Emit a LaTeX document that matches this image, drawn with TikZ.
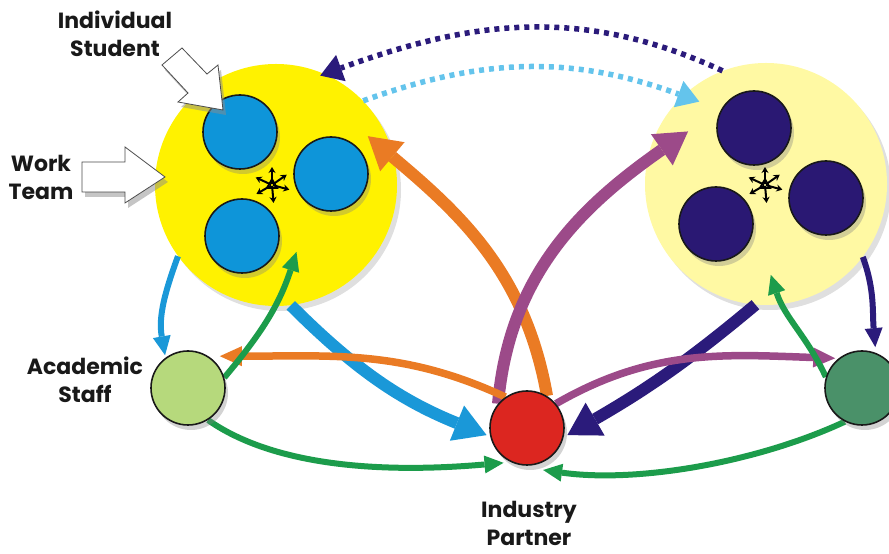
\documentclass[tikz,border=0pt]{standalone}
\usepackage{fontspec}
\setmainfont{Poppins}
\usetikzlibrary{arrows.meta,calc,shadows}

\definecolor{teamyellow}{HTML}{FFF200}
\definecolor{teampale}{HTML}{FFF9A3}
\definecolor{studentblue}{HTML}{0E95D9}
\definecolor{studentnavy}{HTML}{2A1873}
\definecolor{staffgreen}{HTML}{B6D97C}
\definecolor{partnerred}{HTML}{DC2620}
\definecolor{staffdark}{HTML}{4A9169}
\definecolor{orangeflow}{HTML}{EA7B24}
\definecolor{purpleflow}{HTML}{9C4A89}
\definecolor{navyflow}{HTML}{2B1B7B}
\definecolor{blueflow}{HTML}{1A98D8}
\definecolor{skyflow}{HTML}{64C4EC}
\definecolor{greenflow}{HTML}{1C9C4B}

\pgfdeclarelayer{bg}
\pgfdeclarelayer{links}
\pgfsetlayers{bg,links,main}

\tikzset{
	team/.style={circle, inner sep=0pt, minimum size=242pt, drop shadow={shadow xshift=4pt, shadow yshift=-5pt, opacity=0.25}},
	member/.style={circle, draw=black!90, line width=1.6pt, inner sep=0pt, minimum size=74pt, drop shadow={shadow xshift=3pt, shadow yshift=-5pt, opacity=0.35}},
	rolename/.style={font=\bfseries\fontsize{22}{28}\selectfont, align=center, text=black!90},
	bigflow/.style={line width=12pt, -{Triangle[length=32pt, width=38pt, line width=0pt]}},
	flow/.style={line width=7.5pt, -{Triangle[length=22pt, width=20pt, line width=0pt]}},
	thinflow/.style={line width=6pt, -{Triangle[length=19pt, width=18pt, line width=0pt]}},
	dotflow/.style={line width=5.5pt, dash pattern=on 5pt off 5pt, -{Triangle[length=22pt, width=28pt, line width=0pt]}},
	block/.style={draw=black!70, fill=white, line width=0.8pt, line join=miter},
}

% six little arrows between the members of a team
\def\linkstar(#1){%
	\foreach \a in {-15,35,90,155,210,275}
		\draw[line width=2pt, -{Stealth[length=6pt, width=7pt]}] ($(#1)+(\a:1pt)$) -- ($(#1)+(\a:18pt)$);
	\draw[line width=1.6pt] ($(#1)+(90:6pt)$) -- ($(#1)+(210:6pt)$) -- ($(#1)+(330:6pt)$) -- cycle;
}

\begin{document}
\begin{tikzpicture}[x=1pt, y=1pt]
	%%%%% START %%%%%
	\useasboundingbox (0,0) rectangle (889,554);
	
	\begin{pgfonlayer}{bg}
		\node[team, fill=teamyellow] (teamL) at (276,369) {};
		\node[team, fill=teampale] (teamR) at (766,370) {};
	\end{pgfonlayer}
	
	\node[member, fill=studentblue] (sL1) at (240,422) {};
	\node[member, fill=studentblue] (sL2) at (331,380) {};
	\node[member, fill=studentblue] (sL3) at (242,318) {};
	\node[member, fill=studentnavy] (sR1) at (754,426) {};
	\node[member, fill=studentnavy] (sR2) at (826,356) {};
	\node[member, fill=studentnavy] (sR3) at (716,330) {};
	
	\node[member, fill=staffgreen] (staff) at (188,166) {};
	\node[member, fill=partnerred] (partner) at (527,126) {};
	\node[member, fill=staffdark] (staffR) at (862,166) {};
	
	\linkstar(272,369)
	\linkstar(765,369)
	
	\node[rolename] (lblStudent) at (115,520) {Individual\\Student};
	\node[rolename] (lblWork) at (41,377) {Work\\Team};
	\node[rolename] (lblStaff) at (85,174) {Academic\\Staff};
	\node[rolename] (lblPartner) at (529,31) {Industry\\Partner};
	
	% pointers
	\fill[black!45, opacity=0.5, xshift=3pt, yshift=-5pt] (162,489) -- (182,506) -- (207,480) -- (218,489) -- (223,444) -- (178,452) -- (188,461) -- cycle;
	\draw[block] (162,489) -- (182,506) -- (207,480) -- (218,489) -- (223,444) -- (178,452) -- (188,461) -- cycle;
	\fill[black!45, opacity=0.5, xshift=3pt, yshift=-5pt] (82,392) -- (125,392) -- (125,407) -- (165,377) -- (125,351) -- (125,362) -- (82,362) -- cycle;
	\draw[block] (82,392) -- (125,392) -- (125,407) -- (165,377) -- (125,351) -- (125,362) -- (82,362) -- cycle;
	
	\begin{pgfonlayer}{links}
		% between the teams
		\draw[dotflow, color=navyflow] (teamR.111) to[out=155, in=20] ($(teamL)+(68:118)$);
		\draw[dotflow, color=skyflow] (teamL.44) to[out=20, in=160] ($(teamR)+(129:106)$);
		
		% to and from the partner
		\draw[bigflow, color=orangeflow] (partner.58) to[out=100, in=-40] ($(teamL)+(28:104)$);
		\draw[bigflow, color=purpleflow] (partner.140) to[out=85, in=-145] ($(teamR)+(146:94)$);
		\draw[bigflow, color=navyflow] (teamR.265) to[out=220, in=30] ($(partner)+(-10:41)$);
		\draw[bigflow, color=blueflow] (teamL.-83) to[out=-45, in=158] ($(partner)+(190:41)$);
		\draw[flow, color=orangeflow] (partner.125) to[out=155, in=0] ($(staff)+(45:45)$);
		\draw[flow, color=purpleflow] (partner.40) to[out=30, in=178] ($(staffR)+(132:40)$);
		
		% staff
		\draw[thinflow, color=greenflow] (staff.-58) to[out=-35, in=185, looseness=0.8] ($(partner)+(236:42)$);
		\draw[thinflow, color=greenflow] (staffR.243) to[out=205, in=-8, looseness=0.8] ($(partner)+(-69:45)$);
		\draw[thinflow, color=greenflow] (staff.16) to[out=50, in=-108] ($(teamL)+(-73:70)$);
		\draw[thinflow, color=greenflow] (staffR.163) to[out=115, in=-72] ($(teamR)+(-87:91)$);
		\draw[thinflow, color=blueflow] (teamL.216) to[out=250, in=100] ($(staff)+(125:40)$);
		\draw[thinflow, color=navyflow] (teamR.-37) to[out=-70, in=95] ($(staffR)+(72:43)$);
	\end{pgfonlayer}
	
	%%%%% END %%%%%
\end{tikzpicture}
\end{document}
